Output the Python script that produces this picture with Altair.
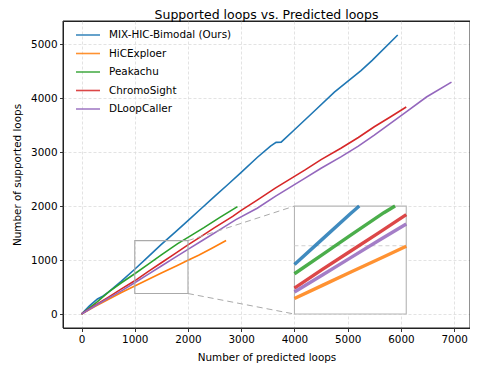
import altair as alt
import pandas as pd

# ---- data ----
methods = ["MIX-HIC-Bimodal (Ours)", "HiCExploer", "Peakachu", "ChromoSight", "DLoopCaller"]
colors = ["#1f77b4", "#ff7f0e", "#2ca02c", "#d62728", "#9467bd"]

mix_x = [0, 150, 300, 400, 500, 750, 1000, 1250, 1500, 1750, 2000, 2250, 2500, 2750, 3000, 3300, 3550, 3655, 3750, 3990, 4390, 4750, 5250, 5460, 5940]
mix_y = [0, 150, 280, 330, 400, 610, 830, 1060, 1290, 1510, 1730, 1955, 2180, 2400, 2625, 2900, 3110, 3180, 3185, 3405, 3775, 4110, 4510, 4700, 5170]

hic_x = [0, 250, 500, 750, 1000, 1250, 1500, 1800, 2000, 2200, 2450, 2716]
hic_y = [0, 140, 270, 400, 521, 640, 760, 900, 995, 1090, 1220, 1363]

pea_x = [0, 300, 500, 750, 1000, 1250, 1500, 1800, 2000, 2300, 2600, 2930]
pea_y = [0, 230, 400, 580, 746, 920, 1095, 1300, 1420, 1600, 1790, 1990]

chr_x = [0, 250, 500, 750, 1000, 1250, 1500, 1750, 2000, 2250, 2500, 2840, 3000, 3300, 3640, 4200, 4500, 4880, 5200, 5500, 5800, 6100]
chr_y = [0, 160, 310, 465, 616, 785, 950, 1115, 1282, 1440, 1600, 1810, 1920, 2110, 2333, 2670, 2860, 3075, 3270, 3470, 3650, 3835]

dlc_x = [0, 250, 500, 750, 1000, 1250, 1500, 1750, 2000, 2300, 2600, 2900, 3300, 3640, 4200, 4500, 4880, 5200, 5500, 6100, 6480, 6950]
dlc_y = [0, 150, 290, 430, 580, 735, 890, 1045, 1198, 1380, 1565, 1750, 1960, 2180, 2517, 2700, 2915, 3110, 3315, 3745, 4020, 4297]

series_x = [mix_x, hic_x, pea_x, chr_x, dlc_x]
series_y = [mix_y, hic_y, pea_y, chr_y, dlc_y]

x_ticks = [0, 1000, 2000, 3000, 4000, 5000, 6000, 7000]
y_ticks = [0, 1000, 2000, 3000, 4000, 5000]

# zoom region (inset view limits) and inset placement in main data coords
zoom_x = [1000, 2000]
zoom_y = [380, 1360]
inset_x = [4000, 6100]
inset_y = [0, 2000]
inset_grid_y = [1000]

# ---- layout ----
W, H = 407, 307
x_dom = [-347.5, 7297.5]
y_dom = [-258.5, 5428.5]
FONT = "DejaVu Sans"

rows = []
for m, xs, ys in zip(methods, series_x, series_y):
    for i, (a, b) in enumerate(zip(xs, ys)):
        rows.append({"method": m, "x": a, "y": b, "order": i})
df = pd.DataFrame(rows)


def clip_polyline(xs, ys, x0, x1, y0, y1):
    """Clip a polyline to a rectangle (Liang-Barsky per segment)."""
    out = []
    for i in range(len(xs) - 1):
        ax, ay, bx, by = xs[i], ys[i], xs[i + 1], ys[i + 1]
        dx, dy = bx - ax, by - ay
        t0, t1 = 0.0, 1.0
        ok = True
        for p, q in ((-dx, ax - x0), (dx, x1 - ax), (-dy, ay - y0), (dy, y1 - ay)):
            if p == 0:
                if q < 0:
                    ok = False
                    break
            else:
                r = q / p
                if p < 0:
                    t0 = max(t0, r)
                else:
                    t1 = min(t1, r)
        if not ok or t0 > t1:
            continue
        p0 = (ax + t0 * dx, ay + t0 * dy)
        p1 = (ax + t1 * dx, ay + t1 * dy)
        if not out or (abs(out[-1][0] - p0[0]) > 1e-9 or abs(out[-1][1] - p0[1]) > 1e-9):
            out.append(p0)
        out.append(p1)
    return out


irows = []
for m, xs, ys in zip(methods, series_x, series_y):
    pts = clip_polyline(xs, ys, zoom_x[0], zoom_x[1], zoom_y[0], zoom_y[1])
    for i, (a, b) in enumerate(pts):
        irows.append({"method": m, "x": a, "y": b, "order": i})
idf = pd.DataFrame(irows)

xs_main = alt.Scale(domain=x_dom, nice=False, zero=False)
ys_main = alt.Scale(domain=y_dom, nice=False, zero=False)
color_scale = alt.Scale(domain=methods, range=colors)

legend = alt.Legend(
    title=None, orient="none", legendX=18, legendY=7,
    symbolType="M-2,0H2", symbolSize=144, symbolStrokeWidth=1.6,
    labelFont=FONT, labelFontSize=10.4, labelColor="#000",
    labelOffset=14, rowPadding=5.5, padding=0, offset=0,
)

axis_common = dict(grid=True, gridDash=[3, 2], gridColor="#dcdcdc", gridWidth=0.8,
                   domain=False, tickColor="#000", tickSize=3.5, tickWidth=0.8,
                   labelFont=FONT, labelFontSize=10.4, labelColor="#000", labelPadding=2.5,
                   titleFont=FONT, titleFontSize=10.4, titleFontWeight="normal",
                   titleColor="#000", labelFlush=False, format="d")
x_axis = alt.Axis(values=x_ticks, title="Number of predicted loops", titlePadding=8, **axis_common)
y_axis = alt.Axis(values=y_ticks, title="Number of supported loops", titlePadding=8, **axis_common)

lines = alt.Chart(df).mark_line(strokeWidth=1.6).encode(
    x=alt.X("x:Q", scale=xs_main, axis=x_axis),
    y=alt.Y("y:Q", scale=ys_main, axis=y_axis),
    color=alt.Color("method:N", scale=color_scale, legend=legend),
    order="order:Q",
)

box_df = pd.DataFrame({"x": [zoom_x[0]], "x2": [zoom_x[1]], "y": [zoom_y[0]], "y2": [zoom_y[1]]})
box = alt.Chart(box_df).mark_rect(fill=None, stroke="#aaaaaa", strokeWidth=1.1).encode(
    x=alt.X("x:Q", scale=xs_main), x2="x2:Q",
    y=alt.Y("y:Q", scale=ys_main), y2="y2:Q",
)

conn_df = pd.DataFrame({
    "x": [zoom_x[1], zoom_x[1]], "x2": [inset_x[0], inset_x[0]],
    "y": [zoom_y[1], zoom_y[0]], "y2": [inset_y[1], inset_y[0]],
})
conn = alt.Chart(conn_df).mark_rule(stroke="#aaaaaa", strokeWidth=1.0, strokeDash=[6, 4]).encode(
    x=alt.X("x:Q", scale=xs_main), x2="x2:Q",
    y=alt.Y("y:Q", scale=ys_main), y2="y2:Q",
)

inset_df = pd.DataFrame({"x": [inset_x[0]], "x2": [inset_x[1]], "y": [inset_y[0]], "y2": [inset_y[1]]})
inset_bg = alt.Chart(inset_df).mark_rect(fill="white", stroke="#b5b5b5", strokeWidth=1.1).encode(
    x=alt.X("x:Q", scale=xs_main), x2="x2:Q",
    y=alt.Y("y:Q", scale=ys_main), y2="y2:Q",
)

# axes frame (spines) as four rules along the axis limits
spine_df = pd.DataFrame({
    "x": [x_dom[0], x_dom[0], x_dom[0], x_dom[1]],
    "x2": [x_dom[1], x_dom[1], x_dom[0], x_dom[1]],
    "y": [y_dom[0], y_dom[1], y_dom[0], y_dom[0]],
    "y2": [y_dom[0], y_dom[1], y_dom[1], y_dom[1]],
})
frame = alt.Chart(spine_df).mark_rule(stroke="#222222", strokeWidth=1.0).encode(
    x=alt.X("x:Q", scale=xs_main), x2="x2:Q",
    y=alt.Y("y:Q", scale=ys_main), y2="y2:Q",
)

main = alt.layer(lines, box, conn, inset_bg, frame)


# pixel ranges of the inset, from its placement in main data coords
def px(v):
    return (v - x_dom[0]) / (x_dom[1] - x_dom[0]) * W


def py(v):
    return (y_dom[1] - v) / (y_dom[1] - y_dom[0]) * H


xs_in = alt.Scale(domain=zoom_x, range=[px(inset_x[0]), px(inset_x[1])], nice=False, zero=False)
ys_in = alt.Scale(domain=zoom_y, range=[py(inset_y[0]), py(inset_y[1])], nice=False, zero=False)

ig_df = pd.DataFrame({"y": inset_grid_y, "x": [zoom_x[0]], "x2": [zoom_x[1]]})
inset_grid = alt.Chart(ig_df).mark_rule(stroke="#d0d0d0", strokeWidth=1, strokeDash=[4, 3]).encode(
    x=alt.X("x:Q", scale=xs_in, axis=None), x2="x2:Q",
    y=alt.Y("y:Q", scale=ys_in, axis=None),
)

inset_lines = alt.Chart(idf).mark_line(strokeWidth=3.4, opacity=0.85).encode(
    x=alt.X("x:Q", scale=xs_in, axis=None),
    y=alt.Y("y:Q", scale=ys_in, axis=None),
    color=alt.Color("method:N", scale=color_scale, legend=legend),
    detail="method:N",
    order="order:Q",
)

inset = alt.layer(inset_grid, inset_lines)

chart = alt.layer(main, inset).resolve_scale(x="independent", y="independent").properties(
    width=W, height=H,
    title=alt.TitleParams("Supported loops vs. Predicted loops", font=FONT, fontSize=12.5,
                          fontWeight="normal", color="#000", anchor="middle",
                          frame="group", baseline="alphabetic", offset=3.5, dy=14),
    autosize=alt.AutoSizeParams(type="none"),
    padding={"left": 55, "top": 13, "right": 0, "bottom": 38},
).configure(background="white", view=alt.ViewConfig(stroke="#222222", strokeWidth=1))

chart.save("out.html", embed_options={"renderer": "svg", "actions": False})
